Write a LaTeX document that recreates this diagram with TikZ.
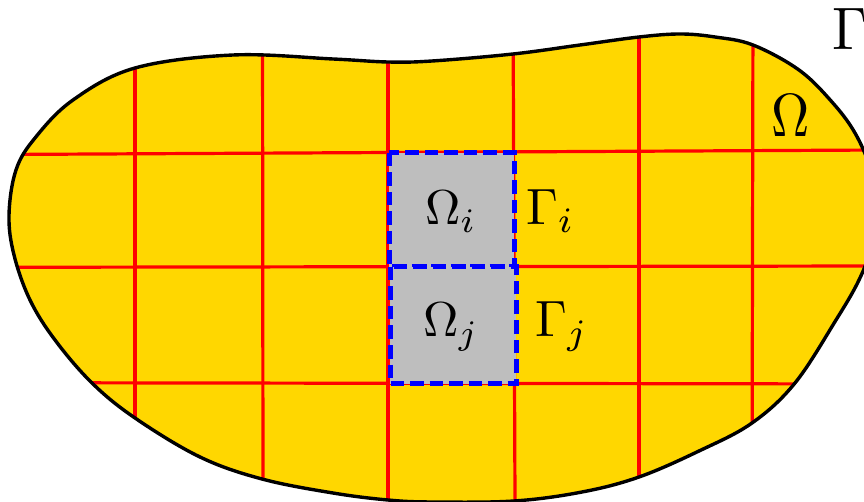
\documentclass[tikz,border=0pt]{standalone}
\definecolor{blobyellow}{HTML}{FFD700}
\definecolor{sqgray}{HTML}{BEBEBE}
\tikzset{
  gridline/.style={red, line width=3.2pt},
  border/.style={black, line width=3.4pt},
  subsq/.style={fill=sqgray, draw=blue, line width=5pt, dash pattern=on 13.5pt off 6pt},
  lbl/.style={anchor=base west, inner sep=0pt, outer sep=0pt}
}
\begin{document}
\begin{tikzpicture}[x=1pt,y=-1pt]
\useasboundingbox (0,0) rectangle (864,502);
\clip (0,0) rectangle (864,502);
\def\blob{plot[smooth cycle, tension=0.6] coordinates {
(9,215) (16,170) (35,138) (73,100) (135,68) (233,55)
(333,59) (388,62) (432,61) (513,54) (580,45) (639,37) (680,34) (715,37) (753,45)
(799,70) (832,102) (855,133) (871,170) (878,207) (872,245) (859,280) (836,320)
(795,383) (752,423) (699,451) (639,477) (582,492) (514,501) (432,502) (388,500)
(333,493) (262,479) (200,457) (135,418) (92,383) (55,340) (30,300) (14,255)}}
\fill[blobyellow] \blob;
\begin{scope}
\clip \blob;
\draw[gridline] (0,154.5) -- (880,150);
\draw[gridline] (0,267.3) -- (880,266);
\draw[gridline] (0,382.7) -- (880,384);
\draw[gridline] (135,0) -- (135,502);
\draw[gridline] (262.5,0) -- (263,502);
\draw[gridline] (388,0) -- (388,502);
\draw[gridline] (513,0) -- (515,502);
\draw[gridline] (639,0) -- (639,502);
\draw[gridline] (753,0) -- (752,502);
\end{scope}
\draw[border] \blob;
\draw[subsq] (389,153) rectangle (514,267);
\draw[subsq] (390,267) rectangle (516,383.5);
\node[lbl, scale=4.9] (omi) at (425,225) {$\Omega_i$};
\node[lbl, scale=4.9] (omj) at (423,337) {$\Omega_j$};
\node[lbl, scale=5.1] (gai) at (526,225) {$\Gamma_i$};
\node[lbl, scale=5.1] (gaj) at (535,337) {$\Gamma_j$};
\node[lbl, xscale=5.3, yscale=6.1] (om) at (771,137) {$\Omega$};
\node[lbl, xscale=5.6, yscale=6.0] (ga) at (832,50) {$\Gamma$};
\end{tikzpicture}
\end{document}
